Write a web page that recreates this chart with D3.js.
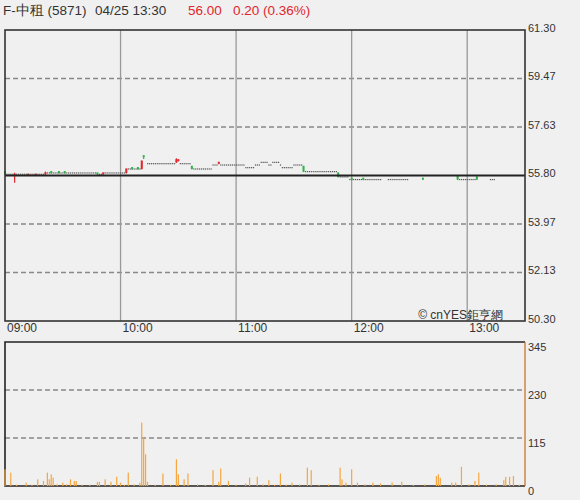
<!DOCTYPE html>
<html><head><meta charset="utf-8">
<script src="https://cdn.jsdelivr.net/npm/d3@7"></script>
<style>
html,body{margin:0;padding:0;background:#f0f0f0;}
svg{display:block;font-family:"Liberation Sans",Arial,sans-serif;}
</style></head><body>
<svg id="c" width="580" height="500"></svg>
<script>
// ---- data ----
const header = {name:"F-中租 (5871)", time:"04/25 13:30", last:"56.00", change:"0.20 (0.36%)"};
const refPrice = 55.80;
const priceTicks = [50.30, 52.13, 53.97, 55.80, 57.63, 59.47, 61.30];
const volTicks = [0, 115, 230, 345];
const timeLabels = ["09:00","10:00","11:00","12:00","13:00"];
const timeLabelMinutes = [0, 60, 120, 180, 240];
// flat minute runs: [startMinute, endMinute, price]
const flatRuns = [
  [1,4,55.85],[6,20,55.85],[22,47,55.90],[49,50,55.85],[52,62,55.90],
  [64,70,56.05],[74,88,56.25],[91,96,56.25],[98,107,56.05],[108,110,56.20],
  [112,124,56.20],[125,129,56.10],[130,132,56.20],[133,136,56.30],[137,138,56.20],
  [139,142,56.30],[143,143,56.20],[144,149,56.10],[150,154,56.20],[156,172,55.95],
  [174,178,55.75],[179,195,55.65],[199,209,55.65],[236,244,55.65],[252,254,55.65]
];
// colored minute candles: [minute, open, high, low, close]
const candles = [
  [0,55.95,55.95,55.85,55.85],[5,55.80,55.90,55.55,55.85],[12,55.80,55.85,55.80,55.85],
  [16,55.80,55.85,55.80,55.85],[21,55.85,55.95,55.85,55.90],[24,55.95,55.95,55.90,55.90],
  [28,55.95,55.95,55.90,55.90],[31,55.95,55.95,55.90,55.90],[48,55.90,55.90,55.85,55.85],
  [51,55.85,55.90,55.85,55.90],[63,55.90,56.05,55.90,56.05],[66,56.10,56.10,56.05,56.05],
  [69,56.10,56.10,56.05,56.05],[71,56.05,56.35,56.05,56.35],[72,56.55,56.55,56.45,56.50],
  [89,56.30,56.45,56.30,56.40],[90,56.35,56.40,56.35,56.40],[97,56.15,56.15,56.05,56.05],
  [111,56.25,56.30,56.25,56.30],[155,56.15,56.15,55.95,55.95],[173,55.90,55.90,55.75,55.75],
  [180,55.70,55.70,55.65,55.65],[186,55.70,55.70,55.65,55.65],[217,55.70,55.70,55.65,55.65],
  [235,55.80,55.80,55.65,55.65],[245,55.75,55.75,55.65,55.65]
];
// volume per minute: [minute, volume]
const volumes = [
  [0,40],[3,32],[6,3],[11,8],[14,3],[17,16],[20,12],[22,32],[23,16],[24,28],[25,20],[27,4],
  [30,8],[32,4],[34,16],[36,12],[37,12],[40,3],[44,3],[48,10],[49,10],[52,16],[55,10],[58,22],
  [60,8],[62,3],[64,32],[67,4],[70,8],[71,152],[72,116],[73,76],[74,10],[78,3],[82,30],[86,3],
  [89,64],[90,28],[93,16],[95,30],[100,4],[104,3],[108,38],[111,10],[112,42],[116,12],[120,3],
  [125,6],[127,20],[131,22],[134,4],[137,14],[140,3],[143,30],[146,3],[149,8],[153,4],
  [157,44],[159,38],[163,3],[168,4],[174,44],[175,16],[177,8],[180,40],[183,8],[187,4],
  [191,8],[195,6],[201,8],[206,10],[212,3],[218,4],[224,24],[225,28],[226,20],[232,8],
  [234,8],[237,46],[241,4],[244,12],[246,32],[250,3],[255,4],[259,14],[260,22],[262,22],
  [264,24],[267,3],[270,345]
];

// ---- layout ----
const svg = d3.select("#c");
const L = 5, R = 525, PT = 30, PB = 321, VT = 342, VB = 486;
const x = d3.scaleLinear().domain([0, 270]).range([L, R]);
const y = d3.scaleLinear().domain([50.30, 61.30]).range([PB, PT]);
const yv = d3.scaleLinear().domain([0, 345]).range([VB, VT]);
const RED = "#e0262e", GREEN = "#33b24a", TXT = "#333";

svg.append("rect").attr("width",580).attr("height",500).attr("fill","#f0f0f0");

// header
const h = svg.append("g").attr("font-size",13.5).attr("fill",TXT);
h.append("text").attr("x",3).attr("y",15).text(header.name);
h.append("text").attr("x",95).attr("y",15).text(header.time);
h.append("text").attr("x",188).attr("y",15).attr("fill",RED).text(header.last);
h.append("text").attr("x",233).attr("y",15).attr("fill",RED).text(header.change);

// price panel grid
const gp = svg.append("g");
gp.selectAll("line.h").data(priceTicks.filter(t => t !== refPrice && t !== 50.30 && t !== 61.30))
  .join("line").attr("x1",L).attr("x2",R).attr("y1",d=>y(d)).attr("y2",d=>y(d))
  .attr("stroke","#888").attr("stroke-width",1.5).attr("stroke-dasharray","5,3");
gp.selectAll("line.v").data(timeLabelMinutes.slice(1))
  .join("line").attr("x1",d=>x(d)).attr("x2",d=>x(d)).attr("y1",PT).attr("y2",PB)
  .attr("stroke","#999").attr("stroke-width",1.3);

// flat minute ticks
const ticks = [];
flatRuns.forEach(([s,e,p]) => { for (let m = s; m <= e; m++) ticks.push([m,p]); });
svg.append("g").selectAll("rect").data(ticks).join("rect")
  .attr("x",d=>x(d[0])-0.5).attr("y",d=>y(d[1])-0.5).attr("width",1.2).attr("height",1.2)
  .attr("fill","#555");

// candles
const cg = svg.append("g");
candles.forEach(([m,o,hi,lo,c]) => {
  const col = c > o ? RED : (c < o ? GREEN : "#555");
  cg.append("line").attr("x1",x(m)).attr("x2",x(m)).attr("y1",y(hi)).attr("y2",y(lo)+0.6)
    .attr("stroke",col).attr("stroke-width",1.2);
  cg.append("rect").attr("x",x(m)-1).attr("y",y(Math.max(o,c))-0.5).attr("width",2)
    .attr("height",Math.max(1.2, Math.abs(y(o)-y(c))+0.6)).attr("fill",col);
});

// reference line
svg.append("line").attr("x1",L).attr("x2",R).attr("y1",y(refPrice)).attr("y2",y(refPrice))
  .attr("stroke","#222").attr("stroke-width",2);

// price frame
svg.append("rect").attr("x",L).attr("y",PT).attr("width",R-L).attr("height",PB-PT)
  .attr("fill","none").attr("stroke","#333").attr("stroke-width",1.6);

// price axis labels
const yAxis = d3.axisRight(y).tickValues(priceTicks).tickSize(0).tickPadding(3)
  .tickFormat(d3.format(".2f"));
const ya = svg.append("g").attr("transform",`translate(${R},0)`).call(yAxis);
ya.select(".domain").remove();
ya.selectAll("text").attr("font-size",11).attr("fill",TXT).attr("font-family","Liberation Sans, Arial, sans-serif")
  .attr("dy","0.1em");

// time labels
const xa = d3.axisBottom(x).tickValues(timeLabelMinutes).tickSize(0).tickPadding(0)
  .tickFormat((d,i)=>timeLabels[i]);
const xg = svg.append("g").attr("transform",`translate(0,${PB})`).call(xa);
xg.select(".domain").remove();
xg.selectAll("text").attr("font-size",12).attr("fill",TXT).attr("text-anchor","start")
  .attr("font-family","Liberation Sans, Arial, sans-serif").attr("dx",1.5).attr("dy","0.95em");

// watermark
svg.append("text").attr("x",503).attr("y",319).attr("text-anchor","end")
  .attr("font-size",12).attr("fill",TXT).text("© cnYES鉅亨網");

// volume panel grid
svg.append("g").selectAll("line").data(volTicks.filter(t=>t>0 && t<345)).join("line")
  .attr("x1",L).attr("x2",R).attr("y1",d=>yv(d)).attr("y2",d=>yv(d))
  .attr("stroke","#888").attr("stroke-width",1.5).attr("stroke-dasharray","5,3");

// volume frame
svg.append("path").attr("d",`M${R},${VT}H${L}V${VB}H${R}`).attr("fill","none")
  .attr("stroke","#222").attr("stroke-width",1.6);

// volume bars
svg.append("g").selectAll("rect").data(volumes).join("rect")
  .attr("x",d=>x(d[0])-0.6).attr("width",1.2)
  .attr("y",d=>yv(d[1])).attr("height",d=>VB-yv(d[1]))
  .attr("fill",d=>d[1]>300 ? "#c86a1a" : "#f5a640");

// volume labels
const va = d3.axisRight(yv).tickValues(volTicks).tickSize(0).tickPadding(3).tickFormat(d3.format("d"));
const vg = svg.append("g").attr("transform",`translate(${R},0)`).call(va);
vg.select(".domain").remove();
vg.selectAll("text").attr("font-size",11).attr("fill",TXT).attr("font-family","Liberation Sans, Arial, sans-serif")
  .attr("dy","0.8em");
</script>
</body></html>
